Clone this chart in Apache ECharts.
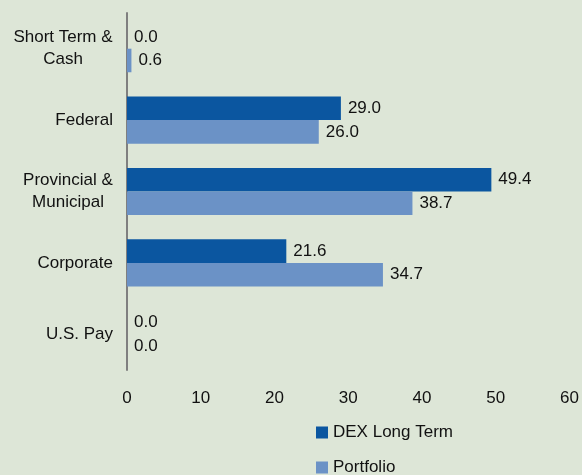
<!DOCTYPE html>
<html>
<head>
<meta charset="utf-8">
<script src="https://cdn.jsdelivr.net/npm/echarts@6/dist/echarts.min.js"></script>
<style>
  html, body { margin: 0; padding: 0; background: #dde6d7; }
  #chart { width: 582px; height: 475px; }
</style>
</head>
<body>
<div id="chart"></div>
<script>
var categories = ['Short Term &\nCash', 'Federal', 'Provincial &\nMunicipal', 'Corporate', 'U.S. Pay'];
var dexLongTerm = [0.0, 29.0, 49.4, 21.6, 0.0];
var portfolio = [0.6, 26.0, 38.7, 34.7, 0.0];
var xTicks = [0, 10, 20, 30, 40, 50, 60];

var font = 'Liberation Sans, Arial, sans-serif';

// two-line labels: lines centred on each other, block right-aligned to the axis
var ctx = document.createElement('canvas').getContext('2d');
ctx.font = '17px ' + font;
var rich = {};
categories.forEach(function (c, i) {
  var w = 0;
  c.split('\n').forEach(function (l) { w = Math.max(w, ctx.measureText(l).width); });
  rich['c' + i] = { width: Math.ceil(w), align: 'center', fontSize: 17, lineHeight: 22, color: '#111', fontFamily: font };
});

var myChart = echarts.init(document.getElementById('chart'));
var labelStyle = {
  show: true,
  position: 'right',
  distance: 7,
  color: '#111',
  fontSize: 17,
  fontFamily: font,
  formatter: function (p) { return p.value.toFixed(1); }
};
myChart.setOption({
  backgroundColor: '#dde6d7',
  animation: false,
  color: ['#0b56a0', '#6b92c6'],
  grid: {
    left: 127,
    right: 12,
    top: 13,
    bottom: 105
  },
  legend: {
    orient: 'vertical',
    left: 311,
    top: 419,
    height: 120,
    itemWidth: 12,
    itemHeight: 12,
    itemGap: 18,
    icon: 'rect',
    textStyle: {
      fontSize: 17,
      color: '#111',
      fontFamily: font
    },
    data: ['DEX Long Term', 'Portfolio']
  },
  xAxis: {
    type: 'value',
    min: xTicks[0],
    max: xTicks[xTicks.length - 1],
    interval: 10,
    axisLine: { show: false },
    axisTick: { show: false },
    splitLine: { show: false },
    axisLabel: {
      margin: 20,
      fontSize: 17,
      color: '#111',
      fontFamily: font
    }
  },
  yAxis: {
    type: 'category',
    inverse: true,
    data: categories,
    axisLine: { show: true, lineStyle: { color: '#7f7f7f', width: 2 } },
    axisTick: { show: false },
    axisLabel: {
      margin: 14,
      fontSize: 17,
      lineHeight: 22,
      color: '#111',
      fontFamily: font,
      align: 'right',
      rich: rich,
      formatter: function (v, i) {
        if (v.indexOf('\n') < 0) return v;
        return v.split('\n').map(function (l) { return '{c' + i + '|' + l + '}'; }).join('\n');
      }
    }
  },
  series: [
    {
      name: 'DEX Long Term',
      type: 'bar',
      data: dexLongTerm,
      barGap: '0%',
      barCategoryGap: '34%',
      label: labelStyle
    },
    {
      name: 'Portfolio',
      type: 'bar',
      data: portfolio,
      barGap: '0%',
      barCategoryGap: '34%',
      label: labelStyle
    }
  ]
});
</script>
</body>
</html>
